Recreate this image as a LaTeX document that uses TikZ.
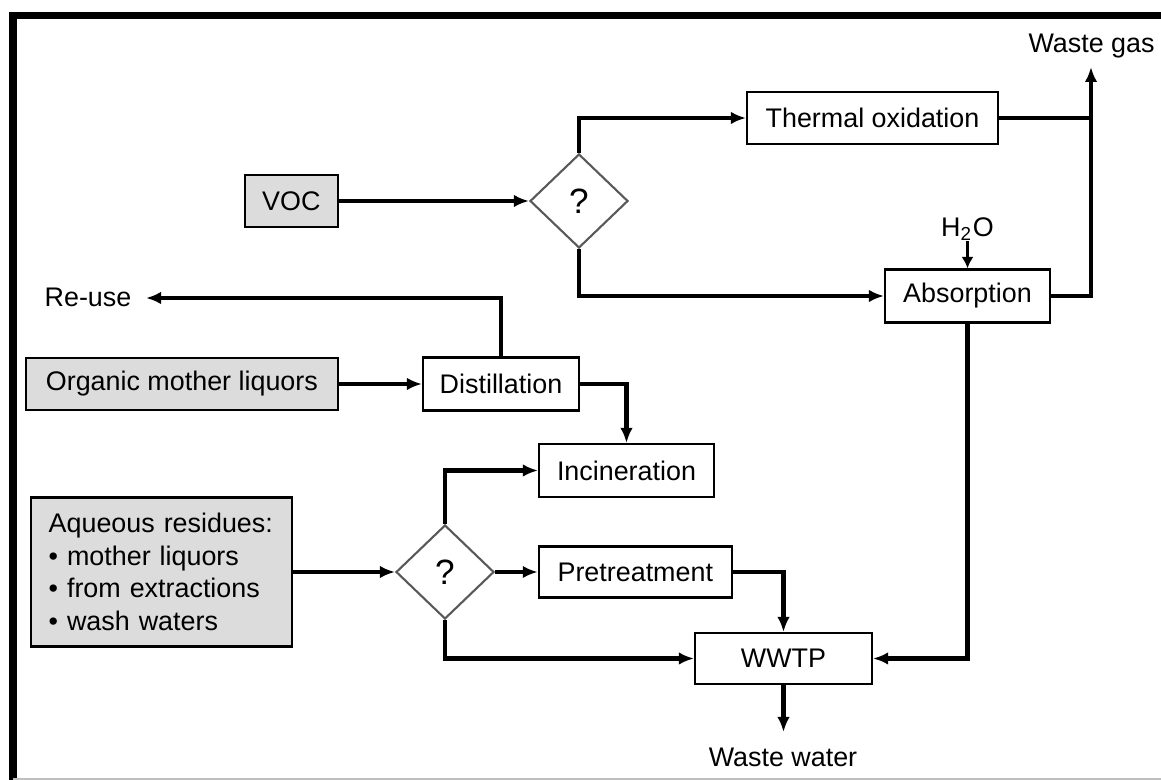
\documentclass[tikz,border=0pt]{standalone}
\usepackage{fontspec}
\setmainfont{Liberation Sans}
\usepackage{tikz}
\usetikzlibrary{arrows.meta,shapes.geometric,positioning}
\definecolor{feedgray}{RGB}{220,220,220}
\tikzset{
	>={Latex[length=1.5mm,width=1.25mm]},
	every node/.append style={font=\fontsize{7.65}{9.3}\selectfont},
	unit/.style = {
			draw,
			line width      = 0.6pt,
			inner sep       = 0pt,
			minimum height  = 0.52cm,
		},
	feed/.style = {unit, fill=feedgray},
	decision/.style = {
			diamond,
			draw            = black!65,
			line width      = 0.6pt,
			inner sep       = 0pt,
			minimum width   = 0.98cm,
			minimum height  = 0.94cm,
			font            = \fontsize{10}{12}\selectfont,
		},
	endtext/.style = {anchor=base, inner sep=0pt},
	flow/.style = {->, line width=1.15pt},
	water/.style = {-{Latex[length=1.15mm,width=1.2mm]}, line width=0.85pt},
}

\begin{document}
\begin{tikzpicture}
			\useasboundingbox (0,0) rectangle (11.61,7.80);

			% frame
			\draw[line width=0.76mm] (0.128,0) -- (0.128,7.645) -- (11.61,7.645);
			\draw[gray!50, line width=0.2mm] (0.128,0.01) -- (11.61,0.01);

			% gas treatment
			\node[feed, minimum width=0.93cm] (voc) at (2.913,5.79) {VOC};
			\node[decision] (q1) at (5.79,5.79) {?};
			\node[unit, minimum width=2.51cm] (thermal) at (8.725,6.62) {Thermal oxidation};
			\node[unit, minimum width=1.65cm, minimum height=0.53cm] (absorb) at (9.675,4.84) {Absorption};
			\node[endtext] (h2o) at (9.675,5.43) {H\textsubscript{2}O};
			\node[endtext] (wastegas) at (10.915,7.27) {Waste gas};
			\coordinate (gasout) at (10.91,7.13);

			\draw[flow] (voc) -- (q1);
			\draw[flow] (q1.north) |- (thermal);
			\draw[flow] (q1.south) |- (absorb);
			\draw[water] (h2o.south) -- (absorb.north);
			\draw[line width=1.15pt] (thermal) -- (thermal -| gasout);
			\draw[flow] (absorb) -| (gasout);

			% organic liquors
			\node[endtext] (reuse) at (0.88,4.73) {Re-use};
			\coordinate (reuseend) at (1.46,4.82);
			\node[feed, minimum width=3.12cm] (organic) at (1.819,3.96) {Organic mother liquors};
			\node[unit, minimum width=1.56cm, minimum height=0.53cm] (distill) at (5.01,3.96) {Distillation};
			\node[unit, minimum width=1.75cm, minimum height=0.53cm] (incin) at (6.265,3.095) {Incineration};

			\draw[flow] (organic) -- (distill);
			\draw[flow] (distill.north) |- (reuseend);
			\draw[flow] (distill) -| (incin);

			% aqueous residues
			\node[feed, align=left, text width=2.25cm, inner xsep=0.18cm, minimum height=1.49cm] (aqueous) at (1.612,2.08)
				{Aqueous residues:\\ \textbullet\ mother liquors\\ \textbullet\ from extractions\\ \textbullet\ wash waters};
			\node[decision] (q2) at (4.45,2.08) {?};
			\node[unit, minimum width=1.93cm, minimum height=0.51cm] (pretreat) at (6.353,2.08) {Pretreatment};
			\node[unit, minimum width=1.77cm, minimum height=0.51cm] (wwtp) at (7.835,1.215) {WWTP};
			\node[endtext] (wastewater) at (7.83,0.13) {Waste water};
			\coordinate (waterend) at (7.835,0.48);

			\draw[flow] (aqueous) -- (q2);
			\draw[flow] (q2.north) |- (incin);
			\draw[flow] (q2) -- (pretreat);
			\draw[flow] (q2.south) |- (wwtp);
			\draw[flow] (pretreat) -| (wwtp);
			\draw[flow] (absorb.south) |- (wwtp);
			\draw[flow] (wwtp) -- (waterend);
		\end{tikzpicture}
\end{document}
